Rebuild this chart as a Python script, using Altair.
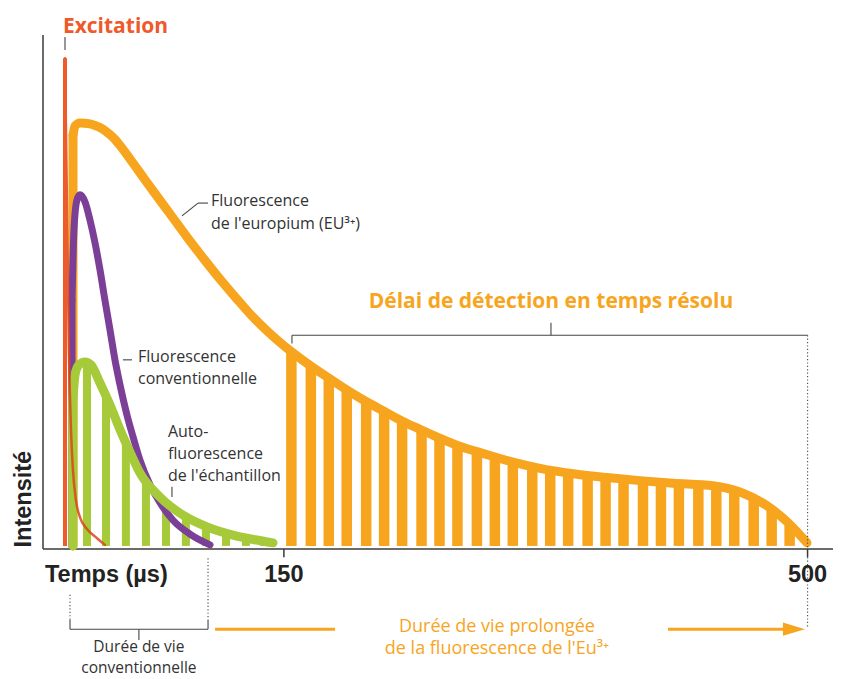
import altair as alt
import pandas as pd

# ---------------- data (time in µs, intensity on a 0-100 scale) ----------------
# Europium (Eu3+) fluorescence curve (first point = foot of the vertical rise)
eu_t = [9.05, 9.05, 10.4, 13.7, 20.4, 23.8, 27.1, 30.4, 33.8, 37.1, 40.5, 47.1, 53.8, 62.5,
        73.9, 85.2, 96.6, 107.3, 118.7, 129.4, 137.4, 145.4, 155.4, 167.5, 180.2, 192.2,
        204.9, 216.9, 229.6, 241.6, 253.7, 266.4, 278.4, 291.1, 303.1, 321.2, 344.6, 366.0,
        388.0, 410.1, 436.8, 454.8, 472.9, 486.3, 499.6]
eu_i = [0.6, 80.5, 82.3, 82.9, 82.7, 82.4, 82.0, 81.4, 80.6, 79.7, 78.5, 75.9, 73.2, 69.7,
        65.2, 60.7, 56.4, 52.5, 48.6, 45.1, 42.8, 40.7, 38.3, 35.7, 33.2, 30.9,
        28.7, 26.8, 24.8, 23.2, 21.6, 20.1, 19.0, 17.9, 16.9, 15.7, 14.6, 13.9,
        13.3, 12.8, 12.3, 11.1, 8.4, 5.3, 1.2]
# time-resolved detection bars under the europium curve
eu_bar_t = [155, 168, 180, 192, 205, 217, 229, 242, 254, 266, 279, 291, 303, 316,
            328, 340, 353, 365, 377, 390, 402, 414, 427, 439, 451, 464, 476, 488]
eu_bar_h = [38.3, 35.6, 33.2, 30.9, 28.7, 26.7, 24.8, 23.1, 21.5, 20.1, 19.0, 17.9, 16.9, 16.1,
            15.3, 14.8, 14.3, 13.9, 13.6, 13.3, 13.0, 12.8, 12.5, 12.2, 11.3, 9.7, 7.6, 4.6]

# conventional fluorescence (purple)
conv_t = [8.4, 8.4, 9.7, 11.7, 13.7, 17.1, 20.4, 23.8, 27.1, 30.4, 33.8, 37.1, 40.5,
          45.1, 49.2, 53.8, 60.5, 67.2, 75.9, 87.2, 100.6]
conv_i = [0.6, 48.4, 62.1, 67.9, 68.9, 67.5, 64.0, 59.5, 54.3, 48.4, 42.6, 36.8, 31.9,
          26.1, 21.8, 17.3, 12.5, 9.0, 5.6, 2.9, 0.8]

# sample autofluorescence (green)
auto_t = [9.0, 9.0, 10.4, 13.0, 17.0, 21.1, 27.1, 33.8, 40.5, 47.1, 53.8, 67.2, 82.5,
          98.6, 116.0, 130.7, 142.7]
auto_i = [0.6, 29.0, 33.9, 35.8, 36.4, 35.8, 32.3, 28.0, 23.2, 18.9, 14.8, 10.1, 6.6,
          4.3, 2.7, 1.8, 1.2]
auto_bar_t = [18.4, 31.1, 44.4, 57.8, 71.2, 84.5, 97.9, 111.3, 124.6, 136.7]
auto_bar_h = [36.3, 29.7, 20.7, 13.4, 9.2, 6.3, 4.4, 3.1, 2.1, 1.5]

# excitation pulse (spike + decay)
exc_spike_t = [3.7]
exc_spike_top = [95.5]
exc_t = [3.7, 5.0, 6.3, 7.7, 9.0, 11.0, 13.7, 18.4, 25.1, 30.4]
exc_i = [95.5, 67.9, 38.7, 23.2, 15.4, 9.5, 6.2, 3.9, 2.1, 0.8]

BAR_BASE = 0.6

# axis ticks
tick_values = [150, 500]
tick_labels = ["150", "500"]

# ---------------- styles ----------------
ORANGE = "#F7A51E"
GREEN = "#A6CA3A"
PURPLE = "#7B3F98"
RED = "#EE5A2A"
GREY = "#3a3a3a"
TEXT = "#333333"
SANS = "Open Sans, Noto Sans, DejaVu Sans"
BOLD_AX = "Liberation Sans, Arial, DejaVu Sans"

xs = alt.Scale(domain=[-11, 517], nice=False, zero=False)
ys = alt.Scale(domain=[0, 100], nice=False, zero=False)


def X(f):
    return alt.X(f, type="quantitative", scale=xs, axis=None)


def Y(f):
    return alt.Y(f, type="quantitative", scale=ys, axis=None)


def line(ts, vs, color, width, opacity=1.0):
    df = pd.DataFrame({"t": ts, "i": vs})
    return alt.Chart(df).mark_line(
        color=color, strokeWidth=width, interpolate="monotone",
        strokeCap="round", strokeJoin="round", opacity=opacity
    ).encode(x=X("t"), y=Y("i"))


def curve(ts, vs, color, width):
    """vertical rise from the foot (first point) then a smooth decay."""
    rise = pd.DataFrame({"t": [ts[0]], "b": [vs[0]], "h": [vs[1]]})
    r = alt.Chart(rise).mark_rule(color=color, strokeWidth=width, strokeCap="round").encode(
        x=X("t"), y=Y("b"), y2="h:Q")
    return [r, line(ts[1:], vs[1:], color, width)]


def bars(ts, hs, color, width):
    df = pd.DataFrame({"t": ts, "h": hs, "b": [BAR_BASE] * len(ts)})
    return alt.Chart(df).mark_rule(color=color, strokeWidth=width).encode(
        x=X("t"), y=Y("b"), y2="h:Q")


def segs(rows, **kw):
    df = pd.DataFrame(rows, columns=["x1", "y1", "x2", "y2"])
    return alt.Chart(df).mark_rule(**kw).encode(
        x=X("x1"), y=Y("y1"), x2="x2:Q", y2="y2:Q")


def texts(rows, **kw):
    df = pd.DataFrame(rows, columns=["t", "i", "txt"])
    return alt.Chart(df).mark_text(baseline="alphabetic", **kw).encode(
        x=X("t"), y=Y("i"), text="txt:N")


# ---------------- annotation geometry (data units) ----------------
axis_lines = [(-11, 0, -11, 100), (-11, 0, 527, 0)]
tick_rows = [(v, 0, v, -1.6) for v in tick_values]
leaders = [
    (3.7, 99.6, 3.7, 97.1),                                   # Excitation
    (81.9, 64.8, 92.6, 67.3), (92.6, 67.3, 99.3, 67.3),       # europium
    (42.4, 36.8, 48.5, 36.8),                                 # conventional
    (75.2, 12.1, 75.2, 10.1),                                 # autofluorescence
    (155.4, 41.6, 500, 41.6), (155.4, 41.6, 155.4, 40.0),     # top bracket
    (328.5, 44.0, 328.5, 41.6),
    (7.05, -15.6, 99.3, -15.6), (7.05, -15.6, 7.05, -13.8),   # bottom bracket
    (99.3, -15.6, 99.3, -13.8), (53.1, -15.6, 53.1, -17.7),
]
dotted = [(500, 41.6, 500, 0), (500, -1.6, 500, -15.4),
          (99.3, -1.8, 99.3, -13.8), (7.05, -8.9, 7.05, -13.8)]
arrow_lines = [(104, -15.6, 184.2, -15.6), (406.7, -15.6, 488, -15.6)]
arrow_head = pd.DataFrame({"t": [490.9], "i": [-15.6]})

notes = [
    (101.3, 66.7, "Fluorescence"), (101.3, 62.3, "de l'europium (EU³⁺)"),
    (52.5, 36.4, "Fluorescence"), (52.5, 32.1, "conventionnelle"),
    (72.5, 21.8, "Auto-"), (72.5, 17.5, "fluorescence"), (72.5, 13.2, "de l'échantillon"),
]
bottom_notes = [(53.1, -20.0, "Durée de vie"), (53.1, -24.1, "conventionnelle")]
orange_notes = [(292.4, -16.1, "Durée de vie prolongée"),
                (292.4, -20.4, "de la fluorescence de l'Eu³⁺")]
tick_text = [(v, -6.4, s) for v, s in zip(tick_values, tick_labels)]

# ---------------- layers ----------------
layers = [
    segs(axis_lines, color=GREY, strokeWidth=1.5),
    segs(tick_rows, color=GREY, strokeWidth=1.5),
    bars(eu_bar_t, eu_bar_h, ORANGE, 10.5),
    *curve(eu_t, eu_i, ORANGE, 9),
    bars(auto_bar_t, auto_bar_h, GREEN, 8),
    *curve(conv_t, conv_i, PURPLE, 7),
    *curve(auto_t, auto_i, GREEN, 9),
    line(exc_t, exc_i, "#D9461C", 2.5, opacity=0.85),
    bars(exc_spike_t, exc_spike_top, RED, 4),
    segs(leaders, color="#444444", strokeWidth=1.1),
    segs(dotted, color="#555555", strokeWidth=1.2, strokeDash=[1.2, 2.2]),
    segs(arrow_lines, color=ORANGE, strokeWidth=3),
    alt.Chart(arrow_head).mark_point(
        shape="M-1,-0.6L1,0L-1,0.6Z", filled=True, size=484, color=ORANGE, opacity=1, strokeWidth=0
    ).encode(x=X("t"), y=Y("i")),
    texts([(2.3, 100.4, "Excitation")], font=SANS, fontSize=21, fontWeight="bold",
          color=RED, align="left"),
    texts([(328.5, 46.9, "Délai de détection en temps résolu")], font=SANS, fontSize=21,
          fontWeight="bold", color=ORANGE, align="center"),
    texts(notes, font=SANS, fontSize=16, color=TEXT, align="left"),
    texts(bottom_notes, font=SANS, fontSize=15.5, color=TEXT, align="center"),
    texts(orange_notes, font=SANS, fontSize=18, color=ORANGE, align="center"),
    texts([(-9.7, -6.4, "Temps (µs)")], font=BOLD_AX, fontSize=23.5, fontWeight="bold",
          color="#222222", align="left"),
    texts(tick_text, font=BOLD_AX, fontSize=23.5, fontWeight="bold", color="#222222",
          align="center"),
    texts([(-19.0, 9.7, "Intensité")], font=BOLD_AX, fontSize=23.5, fontWeight="bold",
          color="#222222", align="center", angle=270),
]

chart = alt.layer(*layers).properties(
    width=790, height=514,
    autosize=alt.AutoSizeParams(type="none"),
    padding={"left": 35, "top": 27, "right": 0, "bottom": 130},
    background="white",
).configure_view(strokeWidth=0)

chart.save("out.html", embed_options={"renderer": "svg", "actions": False})
